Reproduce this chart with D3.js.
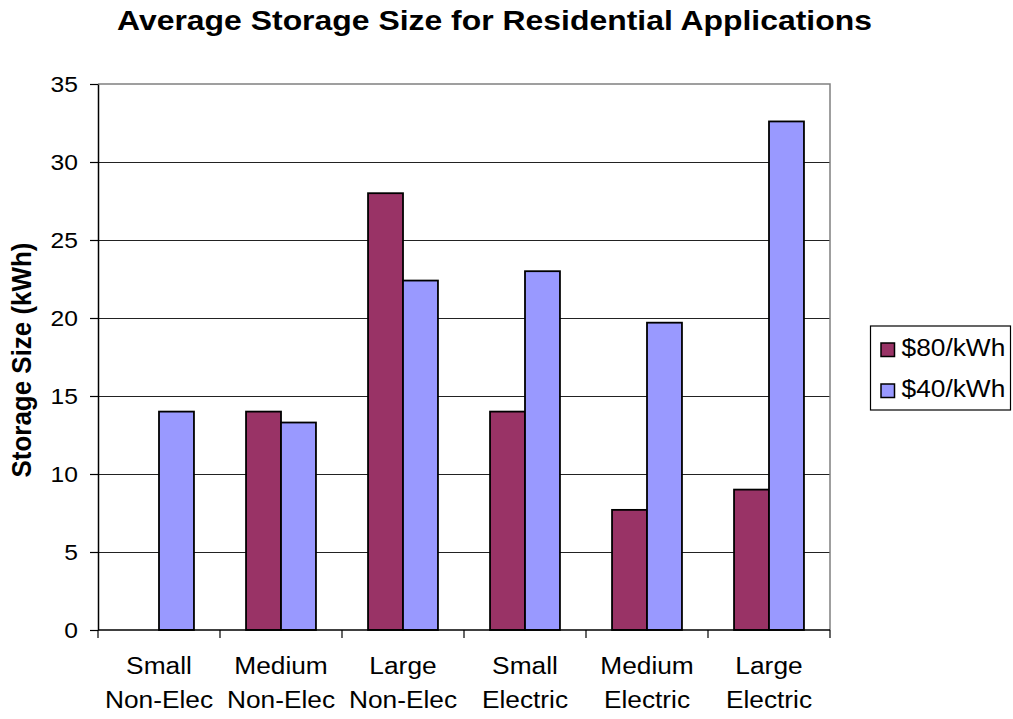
<!DOCTYPE html>
<html>
<head>
<meta charset="utf-8">
<script src="https://cdn.jsdelivr.net/npm/d3@7"></script>
<style>
  html, body { margin: 0; padding: 0; background: #fff; }
  svg { display: block; font-family: "Liberation Sans", Arial, sans-serif; }
</style>
</head>
<body>
<svg id="chart" width="1013" height="719"></svg>
<script>
// Chart data
const categories = [
  ["Small", "Non-Elec"],
  ["Medium", "Non-Elec"],
  ["Large", "Non-Elec"],
  ["Small", "Electric"],
  ["Medium", "Electric"],
  ["Large", "Electric"]
];
const seriesNames = ["$80/kWh", "$40/kWh"];
const values80 = [0, 14, 28, 14, 7.7, 9];
const values40 = [14, 13.3, 22.4, 23, 19.7, 32.6];
const yTicks = [0, 5, 10, 15, 20, 25, 30, 35];
const colors = ["#993366", "#9999FF"];
const title = "Average Storage Size for Residential Applications";
const yLabel = "Storage Size (kWh)";

const seriesValues = [values80, values40];
const SX = 1.12; // horizontal stretch of lettering

const svg = d3.select("#chart");
const plot = { left: 98, right: 830, top: 84, bottom: 630 };

const x = d3.scaleBand()
  .domain(d3.range(categories.length))
  .range([plot.left, plot.right])
  .paddingInner(0).paddingOuter(0);

const xInner = d3.scaleBand()
  .domain(seriesNames)
  .range([0, x.bandwidth()])
  .paddingInner(0).paddingOuter(0.745);

const y = d3.scaleLinear().domain([0, 35]).range([plot.bottom, plot.top]);

// horizontal gridlines
svg.append("g")
  .selectAll("line")
  .data(yTicks.filter(t => t > 0 && t < 35))
  .join("line")
  .attr("x1", plot.left).attr("x2", plot.right)
  .attr("y1", d => y(d)).attr("y2", d => y(d))
  .attr("stroke", "#222").attr("stroke-width", 1)
  .attr("shape-rendering", "crispEdges");

// plot frame: top and right in grey
svg.append("path")
  .attr("d", `M${plot.left},${y(35)}H${plot.right}V${plot.bottom}`)
  .attr("fill", "none").attr("stroke", "#808080").attr("stroke-width", 1.5);

// bars
const bars = [];
seriesNames.forEach((s, si) => {
  seriesValues[si].forEach((v, ci) => {
    if (v > 0) bars.push({ s, si, ci, v });
  });
});
svg.append("g")
  .selectAll("rect")
  .data(bars)
  .join("rect")
  .attr("x", d => x(d.ci) + xInner(d.s))
  .attr("width", xInner.bandwidth())
  .attr("y", d => y(d.v))
  .attr("height", d => y(0) - y(d.v))
  .attr("fill", d => colors[d.si])
  .attr("stroke", "#000").attr("stroke-width", 1.8);

// y axis
const yAxis = svg.append("g")
  .attr("transform", `translate(${plot.left},0)`)
  .call(d3.axisLeft(y).tickValues(yTicks).tickSize(8).tickSizeOuter(0).tickPadding(12));
yAxis.attr("font-size", null).attr("font-family", null);
yAxis.select(".domain").attr("stroke", "#000").attr("stroke-width", 1.5);
yAxis.selectAll(".tick line").attr("stroke", "#000").attr("stroke-width", 1.2);
yAxis.selectAll(".tick text")
  .style("font-family", "'Liberation Sans', Arial, sans-serif")
  .style("font-size", "22px")
  .attr("fill", "#000")
  .attr("x", -20 / SX)
  .attr("dy", "0.35em")
  .attr("transform", `scale(${SX},1)`);

// x axis line and category dividers
svg.append("line")
  .attr("x1", plot.left).attr("x2", plot.right)
  .attr("y1", plot.bottom).attr("y2", plot.bottom)
  .attr("stroke", "#000").attr("stroke-width", 1.5);
svg.append("g")
  .selectAll("line")
  .data(d3.range(categories.length + 1))
  .join("line")
  .attr("x1", i => i < categories.length ? x(i) : plot.right)
  .attr("x2", i => i < categories.length ? x(i) : plot.right)
  .attr("y1", plot.bottom).attr("y2", plot.bottom + 8)
  .attr("stroke", "#000").attr("stroke-width", 1.2);

// category labels (two lines)
const catG = svg.append("g");
categories.forEach((lines, i) => {
  const cx = x(i) + x.bandwidth() / 2;
  lines.forEach((ln, li) => {
    catG.append("text")
      .attr("transform", `translate(${cx},${674 + li * 34}) scale(${SX},1)`)
      .attr("text-anchor", "middle")
      .style("font-size", "23.5px")
      .attr("fill", "#000")
      .text(ln);
  });
});

// title
svg.append("text")
  .attr("transform", `translate(494.5,30) scale(${SX},1)`)
  .attr("text-anchor", "middle")
  .style("font-size", "28.5px")
  .attr("font-weight", "bold")
  .attr("fill", "#000")
  .text(title);

// y axis title
svg.append("text")
  .attr("transform", `translate(30.5,360) scale(${SX},1) rotate(-90)`)
  .attr("text-anchor", "middle")
  .style("font-size", "24px")
  .attr("font-weight", "bold")
  .attr("textLength", 235)
  .attr("lengthAdjust", "spacingAndGlyphs")
  .attr("fill", "#000")
  .text(yLabel);

// legend
const legend = svg.append("g");
legend.append("rect")
  .attr("x", 870.5).attr("y", 326)
  .attr("width", 140).attr("height", 84)
  .attr("fill", "#fff").attr("stroke", "#000").attr("stroke-width", 1.2);
seriesNames.forEach((s, i) => {
  const yy = 343 + i * 41;
  legend.append("rect")
    .attr("x", 881).attr("y", yy)
    .attr("width", 13.5).attr("height", 13.5)
    .attr("fill", colors[i]).attr("stroke", "#000").attr("stroke-width", 1.5);
  legend.append("text")
    .attr("transform", `translate(901.5,${yy + 13}) scale(${SX},1)`)
    .style("font-size", "23.5px")
    .attr("fill", "#000")
    .text(s);
});
</script>
</body>
</html>
